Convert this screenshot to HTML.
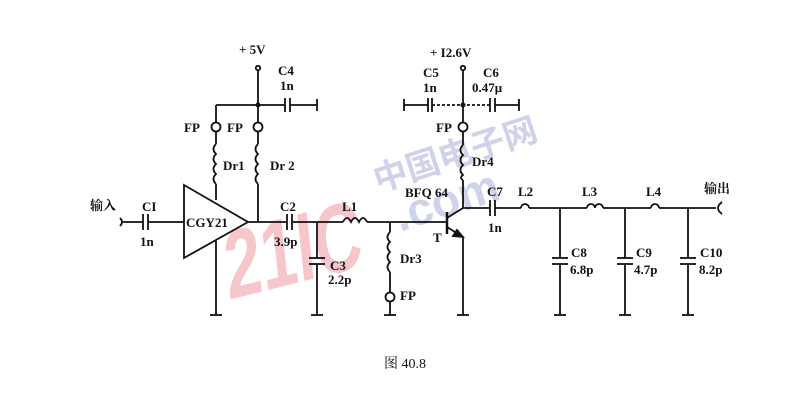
<!DOCTYPE html>
<html><head><meta charset="utf-8"><style>
body{margin:0;background:#fff;width:800px;height:405px;overflow:hidden}
svg{display:block}
text{font-family:"Liberation Serif","Noto Serif CJK SC",serif;font-size:13px;fill:#111;font-weight:bold}
</style></head><body>
<svg width="800" height="405" viewBox="0 0 800 405">
<!-- watermark -->
<text x="268" y="290" transform="rotate(-14 268 290) skewX(-8)" textLength="140" lengthAdjust="spacingAndGlyphs" style="font-size:96px;font-weight:bold;fill:#f6c6cb;font-family:'Liberation Sans',sans-serif">21IC</text>
<text x="378" y="192" transform="rotate(-18 378 192)" style="font-size:34px;font-weight:bold;fill:#cfd3ea;font-family:'Noto Sans CJK SC',sans-serif">中国电子网</text>
<text x="400" y="232" transform="rotate(-18 400 232)" style="font-size:46px;font-weight:bold;fill:#cfd3ea;font-family:'Liberation Sans',sans-serif">.com</text>
<g stroke="#111" stroke-width="1.8" fill="none">
<path d="M120 218 Q124 222 120 226"/>
<line x1="123" y1="222" x2="143" y2="222"/>
<line x1="143" y1="214" x2="143" y2="230"/><line x1="148" y1="214" x2="148" y2="230"/>
<line x1="148" y1="222" x2="184" y2="222"/>
<polygon points="184,185 184,258 248,222"/>
<line x1="248" y1="222" x2="446" y2="222"/>
<line x1="216" y1="241" x2="216" y2="315"/><line x1="210" y1="315" x2="222" y2="315"/>
<circle cx="258" cy="68" r="2.2"/>
<line x1="258" y1="70" x2="258" y2="122"/>
<line x1="216" y1="105" x2="285" y2="105"/>
<line x1="285" y1="98" x2="285" y2="112"/><line x1="290" y1="98" x2="290" y2="112"/>
<line x1="290" y1="105" x2="317" y2="105"/><line x1="317" y1="99" x2="317" y2="111"/>
<line x1="216" y1="105" x2="216" y2="122"/>
<circle cx="216" cy="127" r="4.5"/><circle cx="258" cy="127" r="4.5"/>
<line x1="216" y1="131" x2="216" y2="144"/>
<path d="M216 144 q-5 5 0 10 q-5 5 0 10 q-5 5 0 10 q-5 5 0 10"/>
<line x1="216" y1="184" x2="216" y2="200"/>
<line x1="258" y1="131" x2="258" y2="144"/>
<path d="M258 144 q-5 5 0 10 q-5 5 0 10 q-5 5 0 10 q-5 5 0 10"/>
<line x1="258" y1="184" x2="258" y2="222"/>
<line x1="287" y1="222" x2="293" y2="222" stroke="#fff" stroke-width="3"/>
<line x1="287" y1="214" x2="287" y2="230"/><line x1="292" y1="214" x2="292" y2="230"/>
<line x1="317" y1="222" x2="317" y2="258"/>
<line x1="309" y1="258" x2="325" y2="258"/><line x1="309" y1="264" x2="325" y2="264"/>
<line x1="317" y1="264" x2="317" y2="315"/><line x1="311" y1="315" x2="323" y2="315"/>
<line x1="343" y1="222" x2="367" y2="222" stroke="#fff" stroke-width="3"/>
<path d="M343 222 q4 -8 8 0 q4 -8 8 0 q4 -8 8 0"/>
<line x1="390" y1="222" x2="390" y2="232"/>
<path d="M390 232 q-5 5 0 10 q-5 5 0 10 q-5 5 0 10 q-5 5 0 10"/>
<line x1="390" y1="272" x2="390" y2="292"/>
<circle cx="390" cy="297" r="4.5"/>
<line x1="390" y1="301" x2="390" y2="315"/><line x1="384" y1="315" x2="396" y2="315"/>
<line x1="447" y1="212" x2="447" y2="234" stroke-width="2.5"/>
<line x1="447" y1="218" x2="463" y2="208"/>
<line x1="447" y1="227" x2="463" y2="237"/>
<polygon points="463,237 453,236 457,230" fill="#111"/>
<line x1="463" y1="237" x2="463" y2="315"/><line x1="457" y1="315" x2="469" y2="315"/>
<line x1="463" y1="208" x2="463" y2="180"/>
<path d="M463 145 q-5 5 0 10 q-5 5 0 10 q-5 5 0 10 q-4 3 0 5"/>
<line x1="463" y1="131" x2="463" y2="145"/>
<circle cx="463" cy="127" r="4.5"/>
<line x1="463" y1="70" x2="463" y2="122"/><circle cx="463" cy="68" r="2.2"/>
<line x1="404" y1="105" x2="428" y2="105"/><line x1="404" y1="99" x2="404" y2="111"/>
<line x1="428" y1="98" x2="428" y2="112"/><line x1="432" y1="98" x2="432" y2="112"/>
<line x1="432" y1="105" x2="490" y2="105" stroke-dasharray="3 2"/>
<line x1="490" y1="98" x2="490" y2="112"/><line x1="495" y1="98" x2="495" y2="112"/>
<line x1="495" y1="105" x2="519" y2="105"/><line x1="519" y1="99" x2="519" y2="111"/>
<line x1="463" y1="208" x2="490" y2="208"/>
<line x1="490" y1="200" x2="490" y2="216"/><line x1="495" y1="200" x2="495" y2="216"/>
<line x1="495" y1="208" x2="521" y2="208"/>
<path d="M521 208 a4 4 0 0 1 8 0"/>
<line x1="529" y1="208" x2="587" y2="208"/>
<path d="M587 208 a4 4 0 0 1 8 0 a4 4 0 0 1 8 0"/>
<line x1="603" y1="208" x2="651" y2="208"/>
<path d="M651 208 a4 4 0 0 1 8 0"/>
<line x1="659" y1="208" x2="716" y2="208"/>
<path d="M722 202 Q714 208 722 214"/>
<line x1="560" y1="208" x2="560" y2="258"/><line x1="552" y1="258" x2="568" y2="258"/><line x1="552" y1="264" x2="568" y2="264"/><line x1="560" y1="264" x2="560" y2="315"/><line x1="554" y1="315" x2="566" y2="315"/>
<line x1="625" y1="208" x2="625" y2="258"/><line x1="617" y1="258" x2="633" y2="258"/><line x1="617" y1="264" x2="633" y2="264"/><line x1="625" y1="264" x2="625" y2="315"/><line x1="619" y1="315" x2="631" y2="315"/>
<line x1="688" y1="208" x2="688" y2="258"/><line x1="680" y1="258" x2="696" y2="258"/><line x1="680" y1="264" x2="696" y2="264"/><line x1="688" y1="264" x2="688" y2="315"/><line x1="682" y1="315" x2="694" y2="315"/>
</g>
<circle cx="258" cy="105" r="2.5" fill="#111"/><circle cx="463" cy="105" r="2.5" fill="#111"/>
<g>
<text x="239" y="54">+ 5V</text>
<text x="278" y="75">C4</text><text x="280" y="90">1n</text>
<text x="184" y="132">FP</text><text x="227" y="132">FP</text>
<text x="223" y="170">Dr1</text><text x="270" y="170">Dr 2</text>
<text x="90" y="210">输入</text>
<text x="142" y="211">CI</text><text x="140" y="246">1n</text>
<text x="186" y="227">CGY21</text>
<text x="280" y="211">C2</text><text x="274" y="246">3.9p</text>
<text x="330" y="270">C3</text><text x="328" y="284">2.2p</text>
<text x="342" y="211">L1</text>
<text x="400" y="263">Dr3</text>
<text x="400" y="300">FP</text>
<text x="430" y="57">+ I2.6V</text>
<text x="423" y="77">C5</text><text x="423" y="92">1n</text>
<text x="483" y="77">C6</text><text x="472" y="92">0.47μ</text>
<text x="436" y="132">FP</text>
<text x="472" y="166">Dr4</text>
<text x="405" y="197">BFQ 64</text>
<text x="433" y="242">T</text>
<text x="487" y="196">C7</text><text x="488" y="232">1n</text>
<text x="518" y="196">L2</text><text x="582" y="196">L3</text><text x="646" y="196">L4</text>
<text x="704" y="193">输出</text>
<text x="571" y="257">C8</text><text x="570" y="274">6.8p</text>
<text x="636" y="257">C9</text><text x="634" y="274">4.7p</text>
<text x="700" y="257">C10</text><text x="699" y="274">8.2p</text>
<text x="384" y="368" style="font-size:14px;font-weight:normal">图 40.8</text>
</g>
</svg>
</body></html>
